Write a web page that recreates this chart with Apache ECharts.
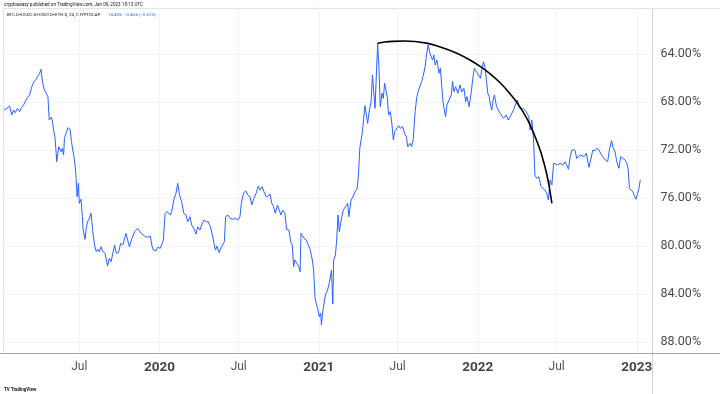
<!DOCTYPE html>
<html>
<head>
<meta charset="utf-8">
<script src="https://cdn.jsdelivr.net/npm/echarts@6/dist/echarts.min.js"></script>
<style>
html,body{margin:0;padding:0;background:#fff;}
#c{width:720px;height:394px;}
</style>
</head>
<body>
<div id="c"></div>
<script>
// ---- data ----
const dates = [
'2019-01-09','2019-01-16','2019-01-22','2019-01-27','2019-01-31','2019-02-04','2019-02-09','2019-02-14','2019-02-17','2019-02-23','2019-02-27',
'2019-03-04','2019-03-09','2019-03-14','2019-03-19','2019-03-24','2019-03-27','2019-04-01','2019-04-04','2019-04-08','2019-04-12','2019-04-16',
'2019-04-20','2019-04-23','2019-04-27','2019-04-30','2019-05-03','2019-05-06','2019-05-09','2019-05-10','2019-05-15','2019-05-20','2019-05-23',
'2019-05-26','2019-05-28','2019-06-01','2019-06-05','2019-06-10','2019-06-13','2019-06-17','2019-06-20','2019-06-23','2019-06-26','2019-06-29',
'2019-07-01','2019-07-05','2019-07-08','2019-07-10','2019-07-14','2019-07-17','2019-07-20','2019-07-24','2019-07-28','2019-08-01','2019-08-05',
'2019-08-09','2019-08-13','2019-08-16','2019-08-20','2019-08-24','2019-08-29','2019-09-04','2019-09-08','2019-09-12','2019-09-16','2019-09-20',
'2019-09-24','2019-09-29','2019-10-04','2019-10-09','2019-10-12','2019-10-16','2019-10-20','2019-10-24','2019-10-30','2019-11-05','2019-11-12',
'2019-11-20','2019-11-28','2019-12-05','2019-12-11','2019-12-15','2019-12-18','2019-12-24','2019-12-28',
'2020-01-03','2020-01-06','2020-01-10','2020-01-14','2020-01-19','2020-01-22','2020-01-26','2020-01-29','2020-02-03','2020-02-08','2020-02-12',
'2020-02-16','2020-02-21','2020-02-26','2020-03-02','2020-03-06','2020-03-11','2020-03-15','2020-03-20','2020-03-25','2020-03-29','2020-04-03',
'2020-04-07','2020-04-12','2020-04-17','2020-04-22','2020-04-27','2020-05-02','2020-05-06','2020-05-09','2020-05-12','2020-05-17','2020-05-22',
'2020-05-26','2020-05-29','2020-06-01','2020-06-06','2020-06-11','2020-06-17','2020-06-23','2020-06-29','2020-07-04','2020-07-07','2020-07-12',
'2020-07-17','2020-07-22','2020-07-27','2020-07-31','2020-08-05','2020-08-10','2020-08-15','2020-08-19','2020-08-24','2020-08-28','2020-09-02',
'2020-09-07','2020-09-11','2020-09-15','2020-09-19','2020-09-23','2020-09-28','2020-10-02','2020-10-06','2020-10-10','2020-10-15','2020-10-19',
'2020-10-24','2020-10-29','2020-11-01','2020-11-04','2020-11-07','2020-11-11','2020-11-16','2020-11-19','2020-11-21','2020-11-24','2020-11-28',
'2020-12-03','2020-12-07','2020-12-12','2020-12-17','2020-12-20','2020-12-23','2020-12-26','2020-12-30',
'2021-01-02','2021-01-05','2021-01-07','2021-01-10','2021-01-13','2021-01-16','2021-01-21','2021-01-25','2021-01-30','2021-02-02','2021-02-04',
'2021-02-08','2021-02-11','2021-02-14','2021-02-17','2021-02-22','2021-02-26','2021-03-03','2021-03-08','2021-03-11','2021-03-16','2021-03-21',
'2021-03-25','2021-03-30','2021-04-02','2021-04-05','2021-04-08','2021-04-11','2021-04-14','2021-04-17','2021-04-21','2021-04-23','2021-04-27',
'2021-05-01','2021-05-04','2021-05-07','2021-05-10','2021-05-13','2021-05-16','2021-05-19','2021-05-22','2021-05-26','2021-05-29','2021-06-01',
'2021-06-04','2021-06-07','2021-06-10','2021-06-14','2021-06-18','2021-06-21','2021-06-24','2021-06-28','2021-07-03','2021-07-07','2021-07-12',
'2021-07-17','2021-07-21','2021-07-24','2021-07-29','2021-08-02','2021-08-06','2021-08-10','2021-08-14','2021-08-18','2021-08-21','2021-08-25',
'2021-08-29','2021-09-02','2021-09-05','2021-09-09','2021-09-13','2021-09-16','2021-09-19','2021-09-22','2021-09-25','2021-09-29','2021-10-04',
'2021-10-07','2021-10-10','2021-10-13','2021-10-16','2021-10-19','2021-10-22','2021-10-27','2021-11-01','2021-11-04','2021-11-07','2021-11-11',
'2021-11-16','2021-11-21','2021-11-25','2021-11-30','2021-12-04','2021-12-07','2021-12-12','2021-12-17','2021-12-21','2021-12-24','2021-12-29',
'2022-01-02','2022-01-07','2022-01-10','2022-01-14','2022-01-18','2022-01-21','2022-01-24','2022-01-27','2022-01-30','2022-02-02','2022-02-05',
'2022-02-08','2022-02-13','2022-02-17','2022-02-21','2022-03-01','2022-03-07','2022-03-12','2022-03-18','2022-03-24','2022-03-28','2022-04-02',
'2022-04-05','2022-04-10','2022-04-16','2022-04-22','2022-04-25','2022-04-28','2022-05-01','2022-05-05','2022-05-09','2022-05-12','2022-05-16',
'2022-05-21','2022-05-26','2022-05-30','2022-06-04','2022-06-08','2022-06-12','2022-06-16','2022-06-20','2022-06-24','2022-06-27','2022-07-03',
'2022-07-09','2022-07-15','2022-07-20','2022-07-24','2022-07-28','2022-08-01','2022-08-05','2022-08-08','2022-08-12','2022-08-16','2022-08-20',
'2022-08-24','2022-08-28','2022-09-02','2022-09-07','2022-09-10','2022-09-13','2022-09-17','2022-09-22','2022-09-27','2022-10-01','2022-10-06',
'2022-10-09','2022-10-12','2022-10-16','2022-10-21','2022-10-26','2022-10-30','2022-11-04','2022-11-08','2022-11-12','2022-11-16','2022-11-21',
'2022-11-25','2022-11-30','2022-12-05','2022-12-09','2022-12-12','2022-12-15','2022-12-18','2022-12-23','2022-12-27','2022-12-30',
'2023-01-03','2023-01-06','2023-01-09'
];
const values = [
68.64,68.50,68.31,69.06,68.64,68.87,68.50,68.78,68.50,68.23,68.08,
67.58,67.39,66.70,66.28,66.08,65.87,65.58,65.25,66.42,66.98,67.12,
67.53,69.48,69.25,69.48,70.31,70.87,72.25,72.95,71.70,72.12,71.83,
72.39,71.00,70.53,70.12,70.25,71.28,71.37,72.81,73.92,75.87,74.75,
76.42,76.08,77.53,78.64,79.42,78.50,77.95,77.67,77.25,78.78,79.89,
80.45,80.25,80.45,80.03,80.45,80.58,81.64,81.00,81.28,80.58,79.89,
80.58,80.53,79.75,79.89,79.48,78.92,78.98,80.03,79.33,78.78,78.50,
78.92,79.14,79.25,79.14,79.98,80.31,80.37,80.08,
80.17,80.31,79.48,77.25,77.12,76.98,77.39,77.12,76.14,75.58,74.75,
75.72,76.28,77.25,77.39,77.95,77.53,78.23,78.50,78.98,78.37,78.64,
78.23,77.81,77.95,77.95,78.37,79.14,79.89,80.31,79.98,80.53,80.08,
79.98,79.62,77.53,77.39,77.67,77.75,77.67,77.81,77.53,76.42,75.58,
75.37,75.73,75.87,76.56,76.00,75.58,74.98,75.31,75.03,75.45,75.87,
75.81,75.64,76.42,76.70,77.25,76.56,76.98,77.39,76.98,77.25,78.58,
78.64,79.70,79.89,81.70,81.14,81.28,81.70,82.12,78.92,78.78,79.33,
79.48,79.62,80.25,81.14,81.98,84.20,84.75,85.31,
85.87,85.58,86.56,85.45,85.31,84.06,83.64,83.03,81.98,84.81,81.14,
80.73,79.48,77.39,78.78,77.67,76.98,76.70,76.42,77.53,76.14,75.81,
75.45,75.17,74.06,71.83,71.70,70.45,69.33,68.28,68.37,69.75,68.64,
67.95,65.73,67.12,68.50,65.73,63.08,65.17,68.37,67.25,67.67,66.42,
66.28,67.53,69.06,68.78,69.89,71.14,70.45,70.58,69.95,70.17,70.03,
70.58,70.87,71.70,71.42,71.70,71.00,68.78,67.53,66.98,66.83,66.28,
65.73,65.03,64.06,63.23,63.92,63.78,64.48,64.06,64.89,64.48,65.58,
65.17,66.56,67.95,68.64,69.20,68.23,67.81,67.39,66.28,67.12,66.70,
67.25,66.56,67.12,66.83,67.95,67.53,68.37,67.12,65.87,65.17,65.45,
65.31,66.00,65.31,64.62,65.17,66.28,67.25,67.53,68.23,68.64,67.81,
67.39,68.37,68.23,68.92,69.33,69.06,69.48,69.06,68.64,68.23,67.81,
68.37,68.58,68.53,68.78,68.64,69.20,70.31,69.48,71.14,74.06,74.33,
74.20,75.03,74.89,75.31,75.58,76.14,74.48,74.89,73.08,72.95,73.23,
73.08,73.23,72.95,73.23,73.58,72.53,71.98,72.12,71.98,72.67,72.81,
72.39,72.39,72.53,72.25,72.81,73.42,72.81,71.98,72.03,71.83,71.98,
71.83,72.39,72.39,72.81,72.95,71.98,71.20,71.83,72.12,72.95,73.50,
72.53,72.67,72.81,73.08,73.50,75.17,75.31,75.45,75.87,76.08,
75.58,75.17,74.46
];
// hand-drawn arc annotation
const arcDates = ['2021-05-16','2021-06-01','2021-06-20','2021-07-15','2021-08-10','2021-09-05','2021-09-30','2021-10-25','2021-11-20',
  '2021-12-15','2022-01-08','2022-01-30','2022-02-20','2022-03-10','2022-03-28','2022-04-12','2022-04-25','2022-05-06','2022-05-15',
  '2022-05-24','2022-06-01','2022-06-08','2022-06-14','2022-06-20'];
const arcValues = [63.08,62.98,62.92,62.89,62.93,63.07,63.30,63.62,64.02,
  64.50,65.05,65.65,66.33,67.03,67.83,68.63,69.45,70.30,71.10,
  71.98,72.95,73.95,75.05,76.42];
const xTicks = ['2019-07-01','2020-01-01','2020-07-01','2021-01-01','2021-07-01','2022-01-01','2022-07-01','2023-01-01'];
const yTicks = [64,68,72,76,80,84,88];

const P = s => Date.UTC(+s.slice(0,4), +s.slice(5,7)-1, +s.slice(8,10));
const chart = echarts.init(document.getElementById('c'), null, {renderer:'canvas'});
const xTickVals = xTicks.map(P);
const font = 'Roboto, "Liberation Sans", sans-serif';

chart.setOption({
  animation:false,
  backgroundColor:'#ffffff',
  grid:{left:3.5, right:67.5, top:6.3, bottom:41, containLabel:false},
  xAxis:{
    type:'value',
    min:P('2019-01-08'), max:P('2023-02-06'),
    axisLine:{show:false},
    axisTick:{show:false, customValues:xTickVals},
    splitLine:{show:true, lineStyle:{color:'#f0f3fa', width:1}},
    axisLabel:{
      customValues:xTickVals, margin:8, hideOverlap:false, showMinLabel:true, showMaxLabel:true,
      fontFamily:font, fontSize:12, color:'#50535e',
      formatter:function(v){const d=new Date(v); return d.getUTCMonth()===0?'{y|'+d.getUTCFullYear()+'}':'Jul';},
      rich:{y:{fontFamily:font, fontSize:13.5, fontWeight:'bold', color:'#434651'}}
    }
  },
  yAxis:{
    type:'value', position:'right', inverse:true,
    min:60, max:88.89,
    axisLine:{show:false},
    axisTick:{show:false, customValues:yTicks},
    splitLine:{show:true, lineStyle:{color:'#f0f3fa', width:1}},
    axisLabel:{customValues:yTicks, margin:8, fontFamily:font, fontSize:12.5, color:'#4a4d57',
      padding:[3,0,0,0], formatter:v=>v.toFixed(2)+'%'}
  },
  series:[
    {type:'line', data:dates.map((d,i)=>[P(d), values[i]]), showSymbol:false, symbol:'none',
     lineStyle:{color:'#2962ff', width:1}, silent:true, z:2},
    {type:'line', data:arcDates.map((d,i)=>[P(d), arcValues[i]]), showSymbol:false, symbol:'none', smooth:0.3,
     lineStyle:{color:'#000000', width:1.6}, silent:true, z:3}
  ],
  graphic:[
    {type:'line', shape:{x1:652.5,y1:9,x2:652.5,y2:394}, style:{stroke:'#d1d4dc', lineWidth:1}, silent:true},
    {type:'line', shape:{x1:0,y1:353.5,x2:720,y2:353.5}, style:{stroke:'#a3a6af', lineWidth:1}, silent:true},
    {type:'line', shape:{x1:3.5,y1:9,x2:3.5,y2:353}, style:{stroke:'#e0e3eb', lineWidth:1}, silent:true},
    {type:'line', shape:{x1:3.5,y1:8.5,x2:720,y2:8.5}, style:{stroke:'#e0e3eb', lineWidth:1}, silent:true},
    {type:'text', left:4, top:2, style:{text:'cryptoseasy published on TradingView.com, Jan 09, 2023 18:13 UTC', font:'4.6px '+font, fill:'#131722'}},
    {type:'text', left:7, top:13, style:{text:'BTC.D+USDC.D+USDT.D+ETH.D, 2D, CRYPTOCAP', font:'4.3px '+font, fill:'#131722'}},
    {type:'text', left:108, top:13, style:{text:'74.46%  \u22120.46% (\u22120.61%)', font:'4.3px '+font, fill:'#2962ff'}},
    {type:'text', left:4, top:387, style:{text:'TV TradingView', font:'bold 4.5px '+font, fill:'#131722'}}
  ]
});
</script>
</body>
</html>
